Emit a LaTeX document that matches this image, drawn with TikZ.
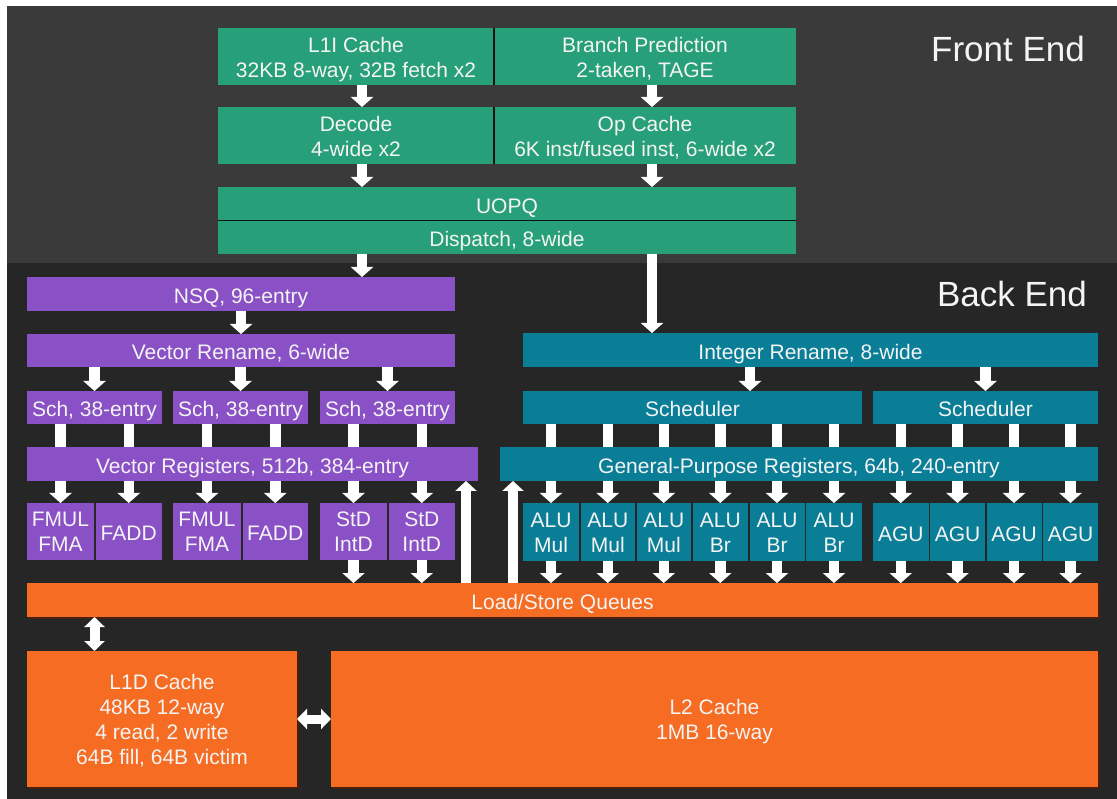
\documentclass[tikz,border=0pt]{standalone}
\usepackage{fontspec}
\setmainfont{Liberation Sans}
\usetikzlibrary{arrows.meta,shadows}
\definecolor{fegray}{HTML}{3A3A3A}
\definecolor{begray}{HTML}{262626}
\definecolor{grn}{HTML}{27A079}
\definecolor{prp}{HTML}{8A50C6}
\definecolor{tea}{HTML}{0A7E97}
\definecolor{org}{HTML}{F56C22}
\definecolor{txt}{HTML}{F4F4F4}
\definecolor{sep}{HTML}{111111}
\newcommand\bx[7]{\node[box, fill=#6, minimum width={(#4-#2)*1pt}, minimum height={(#5-#3)*1pt}] (#1) at ({(#2+#4)/2},{(#3+#5)/2}) {};
  \node[lbl] (#1-t) at (#1.center) {#7};}
\newcommand\obx[6]{\node[box, fill=org, oshadow, minimum width={(#4-#2)*1pt}, minimum height={(#5-#3)*1pt}] (#1) at ({(#2+#4)/2},{(#3+#5)/2}) {};
  \node[lbl] (#1-t) at (#1.center) {#6};}
\begin{document}
\begin{tikzpicture}[x=1pt,y=-1pt,
  box/.style={inner sep=0pt, outer sep=0pt},
  lbl/.style={inner sep=0pt, outer sep=0pt, yshift=-4.3pt, text=txt, font=\fontsize{21}{25}\selectfont, align=center,
    execute at begin node=\strut, execute at end node=\strut},
  oshadow/.style={drop shadow={shadow xshift=1.5pt, shadow yshift=-1.5pt, fill=black!70!org, opacity=1}},
  fat/.style={draw=white, line width=10.5pt, -{Triangle[width=22pt,length=10pt]}},
  upfat/.style={draw=white, line width=10pt, -{Triangle[width=21pt,length=10pt]}},
  bar/.style={draw=white, line width=10.5pt},
  dblv/.style={draw=white, line width=10pt, {Triangle[width=20pt,length=10pt]}-{Triangle[width=20pt,length=10pt]}},
  dblh/.style={draw=white, line width=9pt, {Triangle[width=20pt,length=10pt]}-{Triangle[width=20pt,length=10pt]}},
  title/.style={text=txt, font=\fontsize{35}{40}\selectfont, inner sep=0pt}]
\useasboundingbox (0,0) rectangle (1117,799);
\fill[white] (0,0) rectangle (1117,799);
\fill[fegray] (7,6) rectangle (1117,263);
\fill[begray] (7,263) rectangle (1117,799);
\node[title] (fe) at (1008,49) {Front End};
\node[title] (be) at (1012,294) {Back End};
% front end
\bx{L1I}{218}{28}{494}{85}{grn}{L1I Cache\\32KB 8-way, 32B fetch x2}
\bx{BP}{494}{28}{796}{85}{grn}{Branch Prediction\\2-taken, TAGE}
\bx{DEC}{218}{107}{494}{164}{grn}{Decode\\4-wide x2}
\bx{OPC}{494}{107}{796}{164}{grn}{Op Cache\\6K inst/fused inst, 6-wide x2}
\bx{UOPQ}{218}{187}{796}{220.5}{grn}{UOPQ}
\bx{DISP}{218}{220.5}{796}{254}{grn}{Dispatch, 8-wide}
\draw[sep, line width=1.5pt] (L1I.north east) -- (L1I.south east);
\draw[sep, line width=1.5pt] (DEC.north east) -- (DEC.south east);
\draw[sep, line width=1.5pt] (UOPQ.south west) -- (UOPQ.south east);
\coordinate (ax1) at (362,0);
\coordinate (ax2) at (652,0);
\draw[fat] (L1I.south -| ax1) -- (DEC.north -| ax1);
\draw[fat] (BP.south -| ax2) -- (OPC.north -| ax2);
\draw[fat] (DEC.south -| ax1) -- (UOPQ.north -| ax1);
\draw[fat] (OPC.south -| ax2) -- (UOPQ.north -| ax2);
% vector side
\bx{NSQ}{27}{277}{455}{311}{prp}{NSQ, 96-entry}
\bx{VREN}{27}{334}{455}{367}{prp}{Vector Rename, 6-wide}
\bx{SCH1}{27}{391}{162}{424}{prp}{Sch, 38-entry}
\bx{SCH2}{173}{391}{308}{424}{prp}{Sch, 38-entry}
\bx{SCH3}{320}{391}{455}{424}{prp}{Sch, 38-entry}
\bx{VREG}{27}{447}{478}{481}{prp}{Vector Registers, 512b, 384-entry}
\bx{FM1}{27}{503}{94}{560}{prp}{FMUL\\FMA}
\bx{FA1}{95.5}{503}{162}{560}{prp}{FADD}
\bx{FM2}{173}{503}{241}{560}{prp}{FMUL\\FMA}
\bx{FA2}{242.5}{503}{308}{560}{prp}{FADD}
\bx{ST1}{320}{503}{387}{560}{prp}{StD\\IntD}
\bx{ST2}{388.5}{503}{455}{560}{prp}{StD\\IntD}
\draw[fat] (DISP.south -| ax1) -- (NSQ.north -| ax1);
\draw[fat] (NSQ) -- (VREN);
\draw[fat] (VREN.south -| SCH1) -- (SCH1.north);
\draw[fat] (VREN.south -| SCH2) -- (SCH2.north);
\draw[fat] (VREN.south -| SCH3) -- (SCH3.north);
\draw[bar] (SCH1.south -| FM1) -- (VREG.north -| FM1);
\draw[bar] (SCH1.south -| FA1) -- (VREG.north -| FA1);
\draw[bar] (SCH2.south -| FM2) -- (VREG.north -| FM2);
\draw[bar] (SCH2.south -| FA2) -- (VREG.north -| FA2);
\draw[bar] (SCH3.south -| ST1) -- (VREG.north -| ST1);
\draw[bar] (SCH3.south -| ST2) -- (VREG.north -| ST2);
\foreach \u in {FM1,FA1,FM2,FA2,ST1,ST2} {\draw[fat] (VREG.south -| \u) -- (\u.north);}
% integer side
\bx{IREN}{523}{333}{1098}{367}{tea}{Integer Rename, 8-wide}
\bx{ISC1}{523}{391}{862}{424}{tea}{Scheduler}
\bx{ISC2}{873}{391}{1098}{424}{tea}{Scheduler}
\bx{GPR}{500}{447}{1098}{481}{tea}{General-Purpose Registers, 64b, 240-entry}
\bx{ALU1}{523}{503}{579}{561}{tea}{ALU\\Mul}
\bx{ALU2}{580.5}{503}{635}{561}{tea}{ALU\\Mul}
\bx{ALU3}{636.5}{503}{691}{561}{tea}{ALU\\Mul}
\bx{ALU4}{692.5}{503}{748}{561}{tea}{ALU\\Br}
\bx{ALU5}{749.5}{503}{804.5}{561}{tea}{ALU\\Br}
\bx{ALU6}{806}{503}{862}{561}{tea}{ALU\\Br}
\bx{AGU1}{873}{503}{928.5}{561}{tea}{AGU}
\bx{AGU2}{930}{503}{985}{561}{tea}{AGU}
\bx{AGU3}{986.5}{503}{1041.5}{561}{tea}{AGU}
\bx{AGU4}{1043}{503}{1098}{561}{tea}{AGU}
\coordinate (ax3) at (750,0);
\draw[fat] (DISP.south -| ax2) -- (IREN.north -| ax2);
\draw[fat] (IREN.south -| ax3) -- (ISC1.north -| ax3);
\draw[fat] (IREN.south -| ISC2) -- (ISC2.north);
\foreach \u in {ALU1,ALU2,ALU3,ALU4,ALU5,ALU6} {\draw[bar] (ISC1.south -| \u) -- (GPR.north -| \u);}
\foreach \u in {AGU1,AGU2,AGU3,AGU4} {\draw[bar] (ISC2.south -| \u) -- (GPR.north -| \u);}
\foreach \u in {ALU1,ALU2,ALU3,ALU4,ALU5,ALU6,AGU1,AGU2,AGU3,AGU4} {\draw[fat] (GPR.south -| \u) -- (\u.north);}
% memory
\obx{LSQ}{27}{583}{1098}{617}{Load/Store Queues}
\obx{L1D}{27}{651}{297}{787}{L1D Cache\\48KB 12-way\\4 read, 2 write\\64B fill, 64B victim}
\obx{L2}{331}{651}{1098}{787}{L2 Cache\\1MB 16-way}
\foreach \u in {ST1,ST2,ALU1,ALU2,ALU3,ALU4,ALU5,ALU6,AGU1,AGU2,AGU3,AGU4} {\draw[fat] (\u.south) -- (LSQ.north -| \u);}
\coordinate (ax4) at (466,0);
\coordinate (ax5) at (513,0);
\draw[upfat] (LSQ.north -| ax4) -- (VREG.south -| ax4);
\draw[upfat] (LSQ.north -| ax5) -- (GPR.south -| ax5);
\draw[dblv] (LSQ.south -| SCH1) -- (L1D.north -| SCH1);
\draw[dblh] (L1D.east) -- (L2.west);
\end{tikzpicture}
\end{document}
